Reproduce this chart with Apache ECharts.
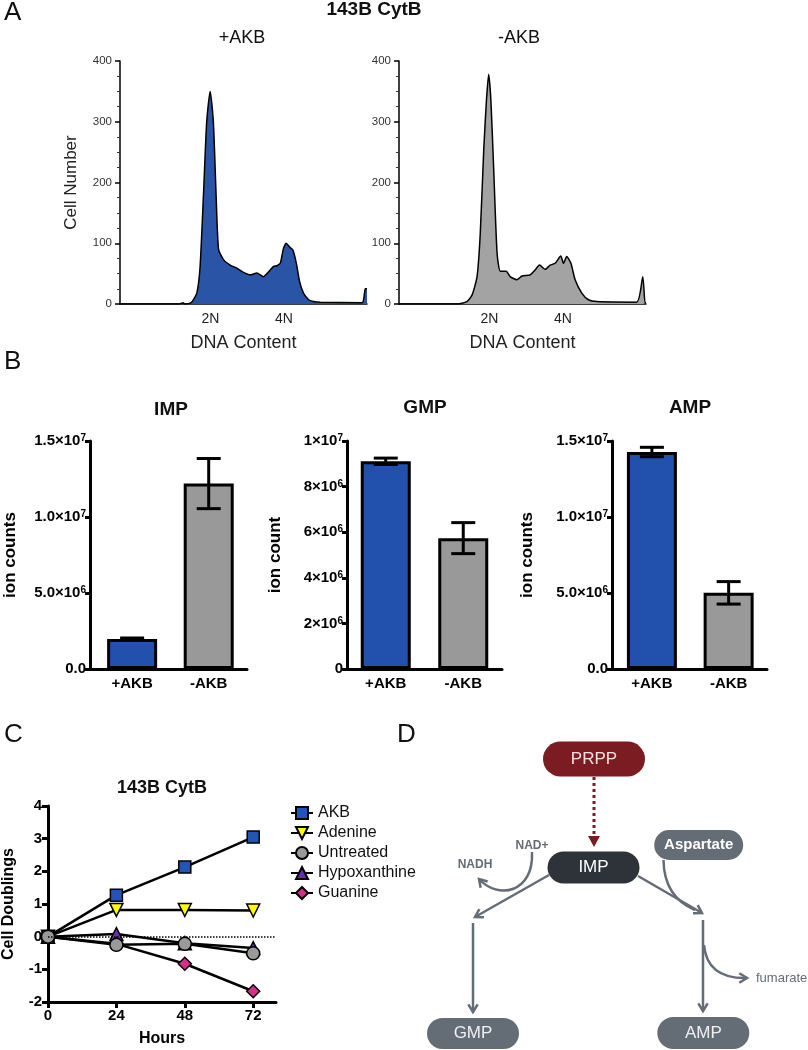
<!DOCTYPE html>
<html><head><meta charset="utf-8">
<script src="https://cdn.jsdelivr.net/npm/echarts@6/dist/echarts.min.js"></script>
<style>html,body{margin:0;padding:0;background:#fff}#c{width:808px;height:1050px}</style>
</head><body><div id="c"></div>
<script>
const FONT = '"Liberation Sans", Arial, Helvetica, sans-serif';

// ---------- Panel A: DNA content histograms ----------
const dnaTickPos = [366, 664];
const dnaTickLabels = ['2N', '4N'];
const histAkbX = [0,240,255,262,270,290,311,324,338,351,365,378,389,399,419,446,473,500,527,554,581,595,622,635,649,662,673,686,700,714,727,743,764,784,811,980,993,1000];
const histAkbY = [0,0,2,0,0,3,18,60,180,300,350,300,180,90,73,64,59,52,48,51,45,50,62,63,67,92,100,94,89,67,37,18,7,4,3,2,25,25];
const histNoX = [0,235,275,296,316,329,343,354,363,372,383,397,410,434,450,477,498,531,551,569,592,612,632,655,666,679,696,713,740,767,801,962,987,996,1000];
const histNoY = [0,0,4,15,45,116,253,335,378,335,226,84,54,54,45,40,46,48,56,64,57,64,67,79,67,78,67,40,18,7,4,3,45,2,2];

// ---------- Panel B: nucleotide ion counts ----------
const barCats = ['+AKB', '-AKB'];
const barColors = ['#2150ad', '#999999'];
const impMean = [1.98e6, 1.22e7];
const impErr = [0.06e6, 1.65e6];
const gmpMean = [9.11e6, 5.74e6];
const gmpErr = [0.14e6, 0.68e6];
const ampMean = [1.4275e7, 5.01e6];
const ampErr = [0.31e6, 0.74e6];

// ---------- Panel C: cell doublings ----------
const hours = [0, 24, 48, 72];
const akb = [0, 1.27, 2.13, 3.05];
const adenine = [0, 0.82, 0.82, 0.80];
const untreated = [0, -0.25, -0.22, -0.51];
const hypoxanthine = [0, 0.08, -0.2, -0.35];
const guanine = [0, -0.22, -0.83, -1.67];

const zip = (xs, ys) => xs.map((x, i) => [x, ys[i]]);

function sciFmt(dec) {
  return function (v) {
    if (v === 0) return dec ? '0.0' : '0';
    const e = Math.floor(Math.log10(v) + 1e-9);
    const m = (v / Math.pow(10, e)).toFixed(dec);
    return '{m|' + m + '×10}{s|' + e + '}';
  };
}
const richSci = {
  m: { fontSize: 15, fontWeight: 'bold', color: '#000', fontFamily: FONT },
  s: { fontSize: 10, fontWeight: 'bold', color: '#000', fontFamily: FONT, verticalAlign: 'top' }
};

function histX(gi) {
  return {
    gridIndex: gi, type: 'value', min: 0, max: 1000,
    axisLine: { onZero: false, lineStyle: { color: '#000', width: 1.5 } },
    axisTick: { show: false }, splitLine: { show: false },
    axisLabel: { customValues: dnaTickPos, formatter: v => dnaTickLabels[dnaTickPos.indexOf(v)],
      fontSize: 14, color: '#222', fontFamily: FONT, margin: 8 },
    name: 'DNA Content', nameLocation: 'middle', nameGap: 30,
    nameTextStyle: { fontSize: 18, color: '#222', fontFamily: FONT }
  };
}
function histY(gi, withName) {
  const o = {
    gridIndex: gi, type: 'value', min: 0, max: 400, interval: 100,
    axisLine: { show: true, onZero: false, lineStyle: { color: '#000', width: 1.5 } },
    axisTick: { show: true, length: 5, lineStyle: { color: '#000', width: 1.5 } },
    minorTick: { show: true, splitNumber: 4, length: 3, lineStyle: { color: '#333', width: 1 } },
    splitLine: { show: false },
    axisLabel: { fontSize: 11.5, color: '#333', fontFamily: FONT, margin: 8 }
  };
  if (withName) {
    o.name = 'Cell Number'; o.nameLocation = 'middle'; o.nameGap = 40;
    o.nameTextStyle = { fontSize: 17, color: '#222', fontFamily: FONT };
  }
  return o;
}
function barX(gi, mn, mx) {
  return {
    gridIndex: gi, type: 'value', min: mn, max: mx,
    axisLine: { onZero: false, lineStyle: { color: '#000', width: 3 } },
    axisTick: { show: false }, splitLine: { show: false },
    axisLabel: { customValues: [0, 1], formatter: v => barCats[Math.round(v)],
      fontSize: 15, fontWeight: 'bold', color: '#000', fontFamily: FONT, margin: 7 }
  };
}
function barY(gi, max, interval, dec, name, gap) {
  return {
    gridIndex: gi, type: 'value', min: 0, max: max, interval: interval,
    axisLine: { show: true, onZero: false, lineStyle: { color: '#000', width: 3 } },
    axisTick: { show: true, length: 5, lineStyle: { color: '#000', width: 3 } },
    splitLine: { show: false },
    axisLabel: { formatter: sciFmt(dec), rich: richSci, fontSize: 15, fontWeight: 'bold',
      color: '#000', fontFamily: FONT, margin: 4 },
    name: name, nameLocation: 'middle', nameGap: gap,
    nameTextStyle: { fontSize: 17, fontWeight: 'bold', color: '#000', fontFamily: FONT }
  };
}
function barSeries(gi, means) {
  return {
    type: 'bar', xAxisIndex: gi, yAxisIndex: gi, barWidth: 50,
    data: means.map((v, i) => ({ value: [i, v], itemStyle: { color: barColors[i] } })),
    itemStyle: { borderColor: '#000', borderWidth: 3 }, z: 2
  };
}
function errSeries(gi, means, errs) {
  return {
    type: 'custom', xAxisIndex: gi, yAxisIndex: gi, z: 5,
    data: means.map((v, i) => [i, v, errs[i]]),
    encode: { x: 0, y: 1 },
    renderItem: function (params, api) {
      const x = api.value(0), m = api.value(1), e = api.value(2);
      const lo = api.coord([x, m - e]);
      const hi = api.coord([x, m + e]);
      const hw = 12, st = { stroke: '#000', lineWidth: 3 };
      return { type: 'group', children: [
        { type: 'line', shape: { x1: lo[0], y1: lo[1], x2: hi[0], y2: hi[1] }, style: st },
        { type: 'line', shape: { x1: lo[0] - hw, y1: lo[1], x2: lo[0] + hw, y2: lo[1] }, style: st },
        { type: 'line', shape: { x1: hi[0] - hw, y1: hi[1], x2: hi[0] + hw, y2: hi[1] }, style: st }
      ] };
    }
  };
}
function growth(name, vals, symbol, color, rot, size) {
  return {
    type: 'line', name: name, xAxisIndex: 5, yAxisIndex: 5,
    data: zip(hours, vals), symbol: symbol, symbolSize: size, symbolRotate: rot || 0,
    showAllSymbol: true,
    lineStyle: { color: '#000', width: 2.5 },
    itemStyle: { color: color, borderColor: '#000', borderWidth: 1.5 }, z: 3
  };
}

// ---------- Panel D: pathway diagram (schematic) ----------
const ARROW = '#646c76';
const pathNodes = [
  { name: 'PRPP', cx: 594, cy: 759, w: 102, h: 35, fill: '#7a1c22', color: '#f4e2e2', size: 17, weight: 'normal' },
  { name: 'IMP', cx: 593.5, cy: 867.5, w: 92, h: 32, fill: '#2e333a', color: '#ffffff', size: 17, weight: 'normal' },
  { name: 'Aspartate', cx: 698.7, cy: 845, w: 89, h: 30, fill: '#646c76', color: '#ffffff', size: 15, weight: 'bold' },
  { name: 'GMP', cx: 473, cy: 1033.5, w: 92, h: 31, fill: '#646c76', color: '#eef0f3', size: 17, weight: 'normal' },
  { name: 'AMP', cx: 703.3, cy: 1033, w: 92, h: 32, fill: '#646c76', color: '#eef0f3', size: 17, weight: 'normal' }
];
function chevron(x, y, ang, len) {
  const a1 = ang + Math.PI - 0.55, a2 = ang + Math.PI + 0.55;
  return { type: 'polyline', z: 100,
    shape: { points: [[x + len * Math.cos(a1), y + len * Math.sin(a1)], [x, y], [x + len * Math.cos(a2), y + len * Math.sin(a2)]] },
    style: { stroke: ARROW, lineWidth: 2.5, fill: null } };
}
function straight(x1, y1, x2, y2) {
  return [
    { type: 'line', z: 100, shape: { x1, y1, x2, y2 }, style: { stroke: ARROW, lineWidth: 2.5 } },
    chevron(x2, y2, Math.atan2(y2 - y1, x2 - x1), 9)
  ];
}
const diagram = [];
pathNodes.forEach(n => {
  diagram.push({ type: 'rect', z: 100, shape: { x: n.cx - n.w / 2, y: n.cy - n.h / 2, width: n.w, height: n.h, r: n.h / 2 }, style: { fill: n.fill } });
  diagram.push({ type: 'text', z: 101, x: n.cx, y: n.cy, style: { text: n.name, fill: n.color, fontSize: n.size, fontWeight: n.weight, fontFamily: FONT, align: 'center', verticalAlign: 'middle' } });
});
diagram.push({ type: 'line', z: 100, shape: { x1: 594, y1: 777, x2: 594, y2: 838 }, style: { stroke: '#7a1c22', lineWidth: 3, lineDash: [3, 3] } });
diagram.push({ type: 'polygon', z: 100, shape: { points: [[588, 836], [600, 836], [594, 847]] }, style: { fill: '#7a1c22' } });
diagram.push(...straight(549, 875, 475, 917));
diagram.push(...straight(473, 923, 473, 1012));
diagram.push(...straight(638, 876, 702, 913));
diagram.push(...straight(703, 920, 703, 1011));
diagram.push({ type: 'bezierCurve', z: 100, shape: { x1: 663.5, y1: 860, cpx1: 664, cpy1: 897, x2: 695, y2: 910 }, style: { stroke: ARROW, lineWidth: 2.5, fill: null } });
diagram.push({ type: 'bezierCurve', z: 100, shape: { x1: 704, y1: 945, cpx1: 707, cpy1: 979, x2: 747, y2: 978 }, style: { stroke: ARROW, lineWidth: 2.5, fill: null } });
diagram.push(chevron(747, 978, 0, 9));
diagram.push({ type: 'bezierCurve', z: 100, shape: { x1: 532, y1: 852, cpx1: 534, cpy1: 893, cpx2: 498, cpy2: 900, x2: 479, y2: 879 }, style: { stroke: ARROW, lineWidth: 2.5, fill: null } });
diagram.push(chevron(479, 879, Math.atan2(879 - 900, 479 - 498), 9));
diagram.push({ type: 'text', z: 101, x: 532, y: 846, style: { text: 'NAD+', fill: ARROW, fontSize: 12, fontWeight: 'bold', fontFamily: FONT, align: 'center', verticalAlign: 'middle' } });
diagram.push({ type: 'text', z: 101, x: 475, y: 865, style: { text: 'NADH', fill: ARROW, fontSize: 12, fontWeight: 'bold', fontFamily: FONT, align: 'center', verticalAlign: 'middle' } });
diagram.push({ type: 'text', z: 101, x: 756, y: 978, style: { text: 'fumarate', fill: ARROW, fontSize: 13, fontFamily: FONT, align: 'left', verticalAlign: 'middle' } });

function ttl(text, cx, cy, size, weight, align) {
  return { text: text, left: cx, top: cy - size / 2, textAlign: align || 'center', textVerticalAlign: 'top', padding: 0,
    textStyle: { fontSize: size, fontWeight: weight || 'normal', color: '#111', fontFamily: FONT } };
}

const chart = echarts.init(document.getElementById('c'), null, { renderer: 'canvas' });
chart.setOption({
  animation: false,
  backgroundColor: '#fff',
  title: [
    ttl('A', 4, 13, 26, 'normal', 'left'),
    ttl('B', 4, 362, 26, 'normal', 'left'),
    ttl('C', 4, 735, 26, 'normal', 'left'),
    ttl('D', 397, 735, 26, 'normal', 'left'),
    ttl('143B CytB', 374, 10, 19, 'bold'),
    ttl('+AKB', 242, 38, 18),
    ttl('-AKB', 519, 38, 18),
    ttl('IMP', 171, 410, 19, 'bold'),
    ttl('GMP', 425, 408, 19, 'bold'),
    ttl('AMP', 690, 408, 19, 'bold'),
    ttl('143B CytB', 162, 788, 18, 'bold')
  ],
  legend: {
    data: ['AKB', 'Adenine', 'Untreated', 'Hypoxanthine', 'Guanine'],
    orient: 'vertical', left: 285, top: 800, itemWidth: 22, itemHeight: 15, itemGap: 4,
    textStyle: { fontSize: 16, color: '#111', fontFamily: FONT }
  },
  grid: [
    { left: 120, top: 61, width: 247, height: 243 },
    { left: 399, top: 61, width: 247, height: 243 },
    { left: 90, top: 441, width: 157, height: 228 },
    { left: 347, top: 441, width: 155, height: 228 },
    { left: 612, top: 441, width: 155, height: 228 },
    { left: 48, top: 806, width: 228, height: 196 }
  ],
  xAxis: [
    histX(0), histX(1),
    barX(2, -0.55, 1.5), barX(3, -0.5, 1.5), barX(4, -0.52, 1.5),
    { gridIndex: 5, type: 'value', min: 0, max: 80,
      axisLine: { onZero: false, lineStyle: { color: '#000', width: 3 } },
      axisTick: { customValues: hours, length: 6, lineStyle: { color: '#000', width: 3 } },
      splitLine: { show: false },
      axisLabel: { customValues: hours, fontSize: 15, fontWeight: 'bold', color: '#000', fontFamily: FONT, margin: 6 },
      name: 'Hours', nameLocation: 'middle', nameGap: 29,
      nameTextStyle: { fontSize: 16, fontWeight: 'bold', color: '#000', fontFamily: FONT } }
  ],
  yAxis: [
    histY(0, true), histY(1, false),
    barY(2, 1.5e7, 5e6, 1, 'ion counts', 71),
    barY(3, 1e7, 2e6, 0, 'ion count', 63),
    barY(4, 1.5e7, 5e6, 1, 'ion counts', 76),
    { gridIndex: 5, type: 'value', min: -2, max: 4, interval: 1,
      axisLine: { show: true, onZero: false, lineStyle: { color: '#000', width: 3 } },
      axisTick: { show: true, length: 6, lineStyle: { color: '#000', width: 3 } },
      splitLine: { show: false },
      axisLabel: { fontSize: 15, fontWeight: 'bold', color: '#000', fontFamily: FONT, margin: 6 },
      name: 'Cell Doublings', nameLocation: 'middle', nameGap: 31,
      nameTextStyle: { fontSize: 16, fontWeight: 'bold', color: '#000', fontFamily: FONT } }
  ],
  series: [
    { type: 'line', xAxisIndex: 0, yAxisIndex: 0, data: zip(histAkbX, histAkbY), symbol: 'none', smooth: 0.2,
      lineStyle: { color: '#000', width: 1.5 }, areaStyle: { color: '#2a55a6', opacity: 1 } },
    { type: 'line', xAxisIndex: 1, yAxisIndex: 1, data: zip(histNoX, histNoY), symbol: 'none', smooth: 0.2,
      lineStyle: { color: '#000', width: 1.5 }, areaStyle: { color: '#a3a3a3', opacity: 1 } },
    barSeries(2, impMean), errSeries(2, impMean, impErr),
    barSeries(3, gmpMean), errSeries(3, gmpMean, gmpErr),
    barSeries(4, ampMean), errSeries(4, ampMean, ampErr),
    Object.assign(growth('AKB', akb, 'rect', '#2255b5', 0, 12), {
      markLine: { silent: true, symbol: 'none', label: { show: false },
        lineStyle: { color: '#000', width: 1.5, type: 'dotted' }, data: [{ yAxis: 0 }] } }),
    growth('Adenine', adenine, 'triangle', '#ffff00', 180, 13),
    growth('Hypoxanthine', hypoxanthine, 'triangle', '#6a2fae', 0, 13),
    growth('Guanine', guanine, 'diamond', '#d4308a', 0, 13),
    growth('Untreated', untreated, 'circle', '#9a9a9a', 0, 13)
  ],
  graphic: diagram
});
</script>
</body></html>
